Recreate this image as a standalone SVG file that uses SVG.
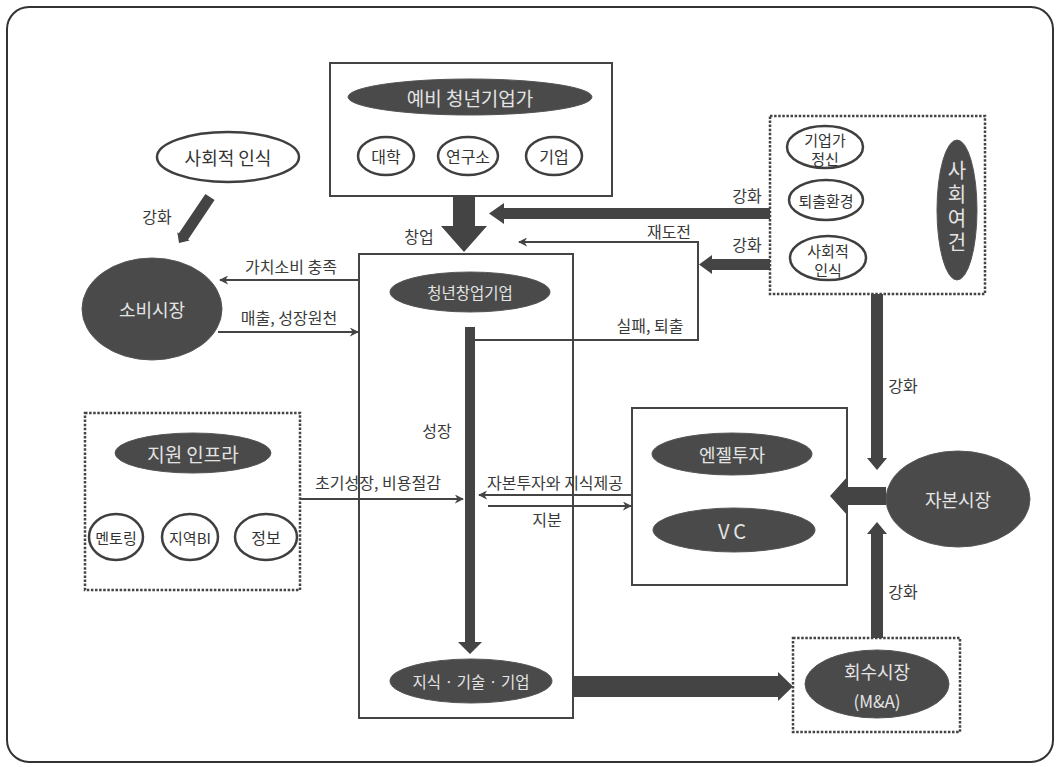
<svg xmlns="http://www.w3.org/2000/svg" width="1060" height="767" viewBox="0 0 1060 767">
<defs>
<style>
text{font-family:"Noto Sans CJK KR","Noto Sans",sans-serif;dominant-baseline:central;text-anchor:middle}
.lbl{font-size:16px;fill:#3a3a3a}
.dk{fill:#4a4a4a;stroke:#555;stroke-width:1}
.dt{fill:#e4e4e4}
.wh{fill:#fff;stroke:#3f3f3f;stroke-width:2.5}
.wt{fill:#333}
.box{fill:#fff;stroke:#444;stroke-width:2}
.dot{fill:none;stroke:#444;stroke-width:2.5;stroke-dasharray:2.5 1.6}
.thin{fill:none;stroke:#444;stroke-width:2}
.thick{fill:#444}
</style>
<marker id="ah" viewBox="0 0 10 10" refX="9" refY="5" markerWidth="4.5" markerHeight="4.5" orient="auto" markerUnits="strokeWidth">
<path d="M0,0 L10,5 L0,10 L3,5 Z" fill="#444"/>
</marker>
</defs>
<rect x="7" y="7" width="1046" height="755" rx="22" fill="#fff" stroke="#333" stroke-width="2"/>

<g id="n-prospective">
<rect class="box" x="330" y="63" width="282" height="133"/>
<ellipse class="dk" cx="470" cy="97" rx="122" ry="18"/>
<text class="dt" x="470" y="97" font-size="19">예비 청년기업가</text>
<ellipse class="wh" cx="386" cy="156" rx="28" ry="19"/>
<text class="wt" x="386" y="156" font-size="16">대학</text>
<ellipse class="wh" cx="468" cy="156" rx="30" ry="19"/>
<text class="wt" x="468" y="156" font-size="16">연구소</text>
<ellipse class="wh" cx="554" cy="156" rx="28" ry="19"/>
<text class="wt" x="554" y="156" font-size="16">기업</text>
</g>

<g id="n-social-perception">
<ellipse class="wh" cx="228" cy="157" rx="71" ry="25"/>
<text class="wt" x="228" y="157" font-size="18">사회적 인식</text>
</g>

<g id="n-consumer-market">
<ellipse class="dk" cx="152" cy="309" rx="70" ry="51"/>
<text class="dt" x="152" y="309" font-size="18">소비시장</text>
</g>

<g id="n-startup">
<rect class="box" x="359" y="254" width="214" height="464"/>
<ellipse class="dk" cx="470" cy="292" rx="80" ry="20"/>
<text class="dt" x="470" y="292" font-size="15.5">청년창업기업</text>
<ellipse class="dk" cx="471" cy="681" rx="81" ry="22"/>
<text class="dt" x="471" y="681" font-size="15.5">지식 · 기술 · 기업</text>
</g>

<g id="n-support">
<rect class="dot" x="85" y="413" width="215" height="177"/>
<ellipse class="dk" cx="193" cy="453" rx="78" ry="20"/>
<text class="dt" x="193" y="453" font-size="19">지원 인프라</text>
<ellipse class="wh" cx="116" cy="537" rx="27" ry="23"/>
<text class="wt" x="116" y="537" font-size="15">멘토링</text>
<ellipse class="wh" cx="190" cy="537" rx="28" ry="23"/>
<text class="wt" x="190" y="537" font-size="15">지역BI</text>
<ellipse class="wh" cx="266" cy="537" rx="31" ry="23"/>
<text class="wt" x="266" y="537" font-size="16">정보</text>
</g>

<g id="n-social-conditions">
<rect class="dot" x="770" y="116" width="215" height="178"/>
<ellipse class="wh" cx="825" cy="147" rx="38" ry="21"/>
<text class="wt" x="825" y="139" font-size="15">기업가</text>
<text class="wt" x="825" y="158" font-size="15">정신</text>
<ellipse class="wh" cx="826" cy="200" rx="37" ry="20"/>
<text class="wt" x="826" y="200" font-size="15">퇴출환경</text>
<ellipse class="wh" cx="828" cy="258" rx="38" ry="22"/>
<text class="wt" x="828" y="250" font-size="15">사회적</text>
<text class="wt" x="828" y="269" font-size="15">인식</text>
<ellipse class="dk" cx="957" cy="210" rx="20" ry="70"/>
<text class="dt" x="957" y="208" font-size="20" writing-mode="vertical-rl" letter-spacing="4">사회여건</text>
</g>

<g id="n-investors">
<rect class="box" x="632" y="408" width="215" height="177"/>
<ellipse class="dk" cx="732" cy="454" rx="80" ry="21"/>
<text class="dt" x="732" y="454" font-size="18">엔젤투자</text>
<ellipse class="dk" cx="734" cy="530" rx="81" ry="22"/>
<text class="dt" x="734" y="530" font-size="20" letter-spacing="4">VC</text>
</g>

<g id="n-capital-market">
<ellipse class="dk" cx="958" cy="499" rx="72" ry="48"/>
<text class="dt" x="958" y="499" font-size="18">자본시장</text>
</g>

<g id="n-exit-market">
<rect class="dot" x="793" y="638" width="167" height="94"/>
<ellipse class="dk" cx="877" cy="684" rx="72" ry="34"/>
<text class="dt" x="877" y="671" font-size="18">회수시장</text>
<text class="dt" x="877" y="700" font-size="17">(M&amp;A)</text>
</g>

<g id="connectors">
<path class="thick" d="M453,196 H475 V226 H487 L464,252 L441,226 H453 Z"/>
<path class="thick" d="M770,208 H504 V203 L489,213.5 L504,224 V219 H770 Z"/>
<path class="thin" d="M475,340 H698 V242 H519" marker-end="url(#ah)"/>
<path class="thick" d="M770,259 H712 V255 L699,264.5 L712,274 V270 H770 Z"/>
<path class="thick" d="M214.6,200.1 L188.1,239.5 L189.7,240.6 L179,243 L177.3,232.2 L178.9,233.3 L205.4,193.9 Z"/>
<line class="thin" x1="359" y1="280" x2="220" y2="280" marker-end="url(#ah)"/>
<line class="thin" x1="218" y1="332" x2="358" y2="332" marker-end="url(#ah)"/>
<path class="thick" d="M465,327 H475 V642 H482 L470,654 L458,642 H465 Z"/>
<line class="thin" x1="300" y1="499" x2="463" y2="499" marker-end="url(#ah)"/>
<line class="thin" x1="632" y1="495" x2="479" y2="495" marker-end="url(#ah)"/>
<line class="thin" x1="488" y1="506" x2="631" y2="506" marker-end="url(#ah)"/>
<path class="thick" d="M574,676 H778 V672 L793,686.5 L778,701 V697 H574 Z"/>
<path class="thick" d="M871,294 H883 V458 H887 L877,470 L867,458 H871 Z"/>
<path class="thick" d="M871,638 H883 V534 H887 L877,522 L867,534 H871 Z"/>
<path class="thick" d="M886,487 H848 V476 L830,496 L848,516 V505 H886 Z"/>
<text class="lbl" x="419" y="236">창업</text>
<text class="lbl" x="747" y="195">강화</text>
<text class="lbl" x="747" y="244">강화</text>
<text class="lbl" x="669" y="231">재도전</text>
<text class="lbl" x="650" y="325">실패, 퇴출</text>
<text class="lbl" x="157" y="216">강화</text>
<text class="lbl" x="291" y="266">가치소비 충족</text>
<text class="lbl" x="289" y="317">매출, 성장원천</text>
<text class="lbl" x="437" y="430">성장</text>
<text class="lbl" x="378" y="482">초기성장, 비용절감</text>
<text class="lbl" x="555" y="482">자본투자와 지식제공</text>
<text class="lbl" x="547" y="519">지분</text>
<text class="lbl" x="903" y="385">강화</text>
<text class="lbl" x="903" y="591">강화</text>
</g>
</svg>
